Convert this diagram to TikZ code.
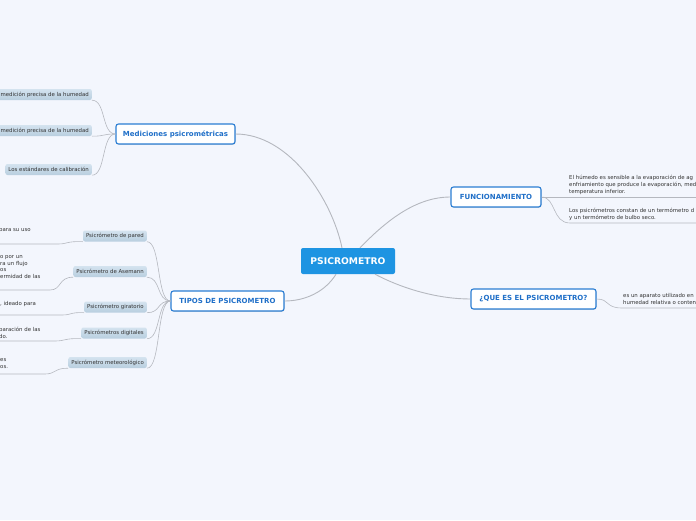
\documentclass[tikz,border=0pt]{standalone}
\usepackage{fontspec}
\setmainfont{DejaVu Sans}
\usetikzlibrary{shadows}
\definecolor{bg}{HTML}{F3F6FD}
\definecolor{central}{HTML}{1E94E2}
\definecolor{mainblue}{HTML}{2A7DD3}
\definecolor{maintext}{HTML}{1F6FC8}
\definecolor{leaftop}{HTML}{D4E3EF}
\definecolor{leafbot}{HTML}{B8CEDF}
\definecolor{conn}{HTML}{B5B8BF}
\definecolor{txt}{HTML}{333333}
\begin{document}
\begin{tikzpicture}[x=1pt,y=-1pt,
  centralbox/.style={fill=central, rounded corners=2pt, text=white, font=\bfseries\fontsize{9.2}{10}\selectfont, minimum width=94pt, minimum height=26pt, inner sep=0pt},
  mainbox/.style={draw=mainblue, line width=1.1pt, fill=white, rounded corners=2.5pt, text=maintext, font=\bfseries\fontsize{7}{8}\selectfont, inner sep=0pt, minimum height=20pt, drop shadow={opacity=0.25, shadow xshift=0.6pt, shadow yshift=-0.8pt}},
  leafbox/.style={top color=leaftop, bottom color=leafbot, rounded corners=2pt, text=txt, font=\fontsize{5.4}{6.5}\selectfont, inner xsep=3pt, inner ysep=0pt, minimum height=11pt},
  leaftext/.style={text=txt, font=\fontsize{5.4}{6.6}\selectfont, align=left, inner sep=0pt},
  link/.style={draw=conn, line width=0.9pt},
  sublink/.style={draw=conn, line width=0.6pt},
]
\fill[bg] (0,0) rectangle (696,520);
\useasboundingbox (0,0) rectangle (696,520);

% central and main topics
\node[centralbox] (central) at (348,261) {PSICROMETRO};
\node[mainbox, minimum width=119pt] (med) at (175.5,134) {Mediciones psicrométricas};
\node[mainbox, minimum width=113pt] (tipos) at (227.5,301) {TIPOS DE PSICROMETRO};
\node[mainbox, minimum width=90pt] (func) at (496,197) {FUNCIONAMIENTO};
\node[mainbox, minimum width=125pt] (que) at (533.5,299) {¿QUE ES EL PSICROMETRO?};

\draw[link] ([xshift=-6pt]central.north) .. controls (332,200) and (290,134) .. (med.east);
\draw[link] ([xshift=12pt]central.north) .. controls (385,222) and (415,197) .. (func.west);
\draw[link] ([xshift=27pt]central.south) .. controls (405,290) and (440,299) .. (que.west);
\draw[link] ([xshift=-12pt]central.south) .. controls (325,292) and (305,301) .. (tipos.east);

% Mediciones leaves
\node[leafbox, anchor=east] (m1) at (92,94.5) {medición precisa de la \raisebox{-0.8pt}{humedad}};
\node[leafbox, anchor=east] (m2) at (92,130.5) {medición precisa de la \raisebox{-0.8pt}{humedad}};
\node[leafbox, anchor=east] (m3) at (92,169.5) {Los estándares de calibración};
\foreach \n in {m1,m2,m3}
  \draw[sublink] (med.west) .. controls +(-14,0) and +(14,0) .. (\n.south east);

% Tipos leaves (boxes)
\node[leafbox, anchor=east] (p1) at (147,236) {Psicrómetro de pared};
\node[leafbox, anchor=east] (p2) at (147,271.5) {Psicrómetro de Asemann};
\node[leafbox, anchor=east] (p3) at (147,307) {Psicrómetro giratorio};
\node[leafbox, anchor=east] (p4) at (147,333) {Psicrómetros digitales};
\node[leafbox, anchor=east] (p5) at (147,362.5) {Psicrómetro meteorológico};
\foreach \n in {p1,p2,p3,p4,p5}
  \draw[sublink] (tipos.west) .. controls +(-14,0) and +(14,0) .. (\n.south east);

% Tipos leaves (texts)
\node[leaftext, anchor=north west] (t1) at (-1,228.4) {para su uso};
\node[leaftext, anchor=north west] (t2) at (0,255.4) {o por un\\ra un flujo\\os\\ermidad de las};
\node[leaftext, anchor=north west] (t3) at (0,301.4) {, ideado para};
\node[leaftext, anchor=north west] (t4) at (-1,327.4) {paración de las\\do.};
\node[leaftext, anchor=north west] (t5) at (0,358.4) {es\\os.};

\coordinate (u1) at (0,244);
\coordinate (u2) at (0,290);
\coordinate (u3) at (0,315);
\coordinate (u4) at (0,341);
\coordinate (u5) at (0,374);
\draw[sublink] (u1) -- (58,244) .. controls (68,244) and (66,241) .. (p1.south west);
\draw[sublink] (u2) -- (50,290) .. controls (62,290) and (58,277) .. (p2.south west);
\draw[sublink] (u3) -- (62,315) .. controls (72,315) and (70,312) .. (p3.south west);
\draw[sublink] (u4) -- (55,341) .. controls (66,341) and (64,338) .. (p4.south west);
\draw[sublink] (u5) -- (45,374) .. controls (56,374) and (54,368) .. (p5.south west);

% Funcionamiento leaves
\node[leaftext, anchor=north west] (f1) at (569,175.4) {El húmedo es sensible a la evaporación de ag\\enfriamiento que produce la evaporación, med\\temperatura inferior.};
\node[leaftext, anchor=north west] (f2) at (569,208.4) {Los psicrómetros constan de un termómetro d\\y un termómetro de bulbo seco.};
\coordinate (fu1) at (700,197);
\coordinate (fu2) at (700,223);
\draw[sublink] (func.east) -- (fu1);
\draw[sublink] (func.east) .. controls (556,197) and (552,223) .. (570,223) -- (fu2);

% Que es leaf
\node[leaftext, anchor=north west] (q1) at (623,293.4) {es un aparato utilizado en\\humedad relativa o conten};
\coordinate (qu1) at (700,308);
\draw[sublink] (que.east) .. controls (610,299) and (605,308) .. (622,308) -- (qu1);
\end{tikzpicture}
\end{document}
